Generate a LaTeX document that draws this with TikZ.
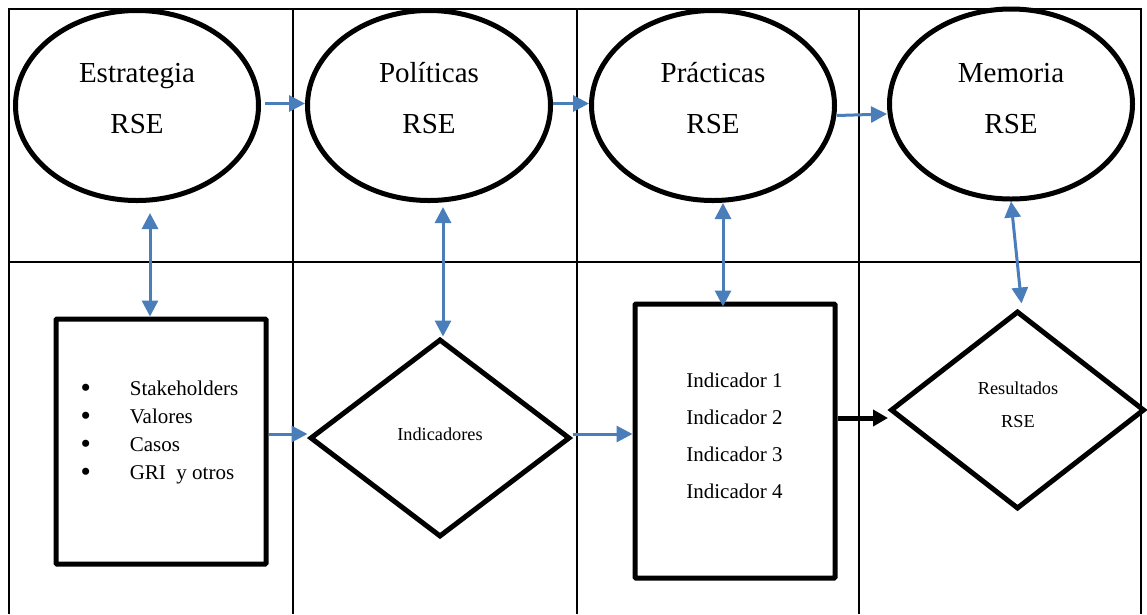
\documentclass[tikz,border=0pt]{standalone}
\usepackage{fontspec}
\setmainfont{Liberation Serif}
\usetikzlibrary{arrows.meta,shapes.geometric}

\definecolor{azul}{RGB}{74,126,187}

\tikzset{
  linea/.style={line width=2pt},
  elipse/.style={ellipse, draw=black, line width=5pt, minimum width=243pt, minimum height=190pt},
  caja/.style={rectangle, draw=black, line width=5pt, rounded corners=1pt},
  rombo/.style={diamond, draw=black, line width=5pt},
  titulo/.style={font=\fontsize{29}{51}\selectfont, align=center},
  texto/.style={font=\fontsize{21}{37}\selectfont, align=center},
  chico/.style={font=\fontsize{18.3}{33}\selectfont, align=center},
  flecha/.style={draw=azul, line width=3pt, -{Triangle[length=16pt,width=16pt]}},
  doble/.style={draw=azul, line width=3pt, {Triangle[length=16pt,width=16pt]}-{Triangle[length=16pt,width=16pt]}},
  negra/.style={draw=black, line width=5pt, -{Triangle[length=15pt,width=16pt]}},
}
\newcommand{\punto}{\smash{\raisebox{-2pt}{\scalebox{1.4}{\textbullet}}}}

\begin{document}
\begin{tikzpicture}[x=1pt,y=-1pt]
    \useasboundingbox (0,0) rectangle (1147,614);

    % tabla de fondo
    \draw[linea] (9,614) -- (9,9) -- (1141,9) -- (1141,614);
    \draw[linea] (9,262) -- (1141,262);
    \foreach \x in {293,577,859}
        \draw[linea] (\x,9) -- (\x,614);

    % fila superior
    \node[elipse] (est) at (137,105.5) {};
    \node[elipse] (pol) at (429,105.5) {};
    \node[elipse] (pra) at (713,105.5) {};
    \node[elipse] (mem) at (1011,104) {};
    \node[titulo] (estT) at (137,98.5) {Estrategia\\RSE};
    \node[titulo] (polT) at (429,98.5) {Políticas\\RSE};
    \node[titulo] (praT) at (713,98.5) {Prácticas\\RSE};
    \node[titulo] (memT) at (1011,98.5) {Memoria\\RSE};

    % fila inferior
    \node[caja, minimum width=210pt, minimum height=245pt] (box1) at (161,441.5) {};
    \node[rombo, minimum width=260pt, minimum height=198pt] (dia1) at (440,438) {};
    \node[caja, minimum width=200pt, minimum height=274pt] (box2) at (735,441) {};
    \node[rombo, minimum width=254pt, minimum height=198pt] (dia2) at (1017.5,410) {};

    \node[anchor=west, font=\fontsize{21}{28}\selectfont] (lista) at (77,431.5) {%
        \begin{tabular}{@{}l@{\hspace{39pt}}l@{}}
            \punto & Stakeholders\\
            \punto & Valores\\
            \punto & Casos\\
            \punto & GRI\ \ y otros
        \end{tabular}};
    \node[chico] (indT) at (440,434) {Indicadores};
    \node[texto] (box2T) at (734.5,435.5) {Indicador 1\\Indicador 2\\Indicador 3\\Indicador 4};
    \node[chico] (resT) at (1018,405) {Resultados\\RSE};

    % flechas
    \draw[flecha] ([xshift=4pt,yshift=2pt]est.east) -- ([yshift=2pt]pol.west);
    \draw[flecha] ([yshift=2pt]pol.east) -- ([yshift=2pt]pra.west);
    \draw[flecha] ([yshift=-10pt]pra.east) -- ([yshift=-10pt]mem.west);
    \draw[doble] ([xshift=13pt,yshift=-10pt]est.south) -- ([xshift=-11pt]box1.north);
    \draw[doble] ([xshift=14pt,yshift=-4pt]pol.south) -- ([xshift=3pt]dia1.north);
    \draw[doble] ([xshift=10pt]pra.south) -- ([xshift=-12pt,yshift=-5pt]box2.north);
    \draw[doble] (mem.south) -- ([xshift=4pt,yshift=5pt]dia2.north);
    \draw[flecha] ([yshift=7.5pt]box1.east) -- ([yshift=4pt]dia1.west);
    \draw[flecha] ([yshift=4pt]dia1.east) -- ([yshift=7pt]box2.west);
    \draw[negra] ([yshift=23pt]box2.east) -- ([yshift=-8pt]dia2.west);
\end{tikzpicture}
\end{document}
